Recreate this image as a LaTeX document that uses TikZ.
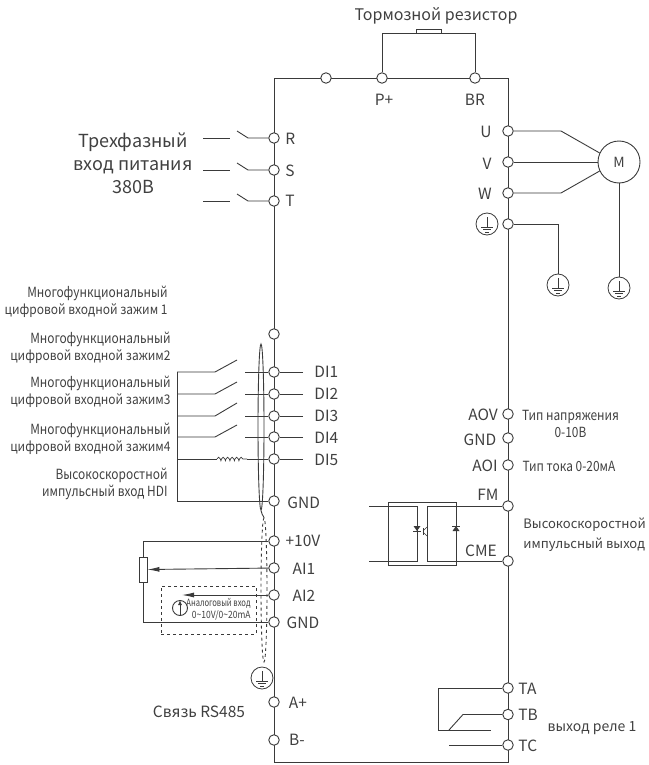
\documentclass[tikz,border=0pt]{standalone}
\usepackage{fontspec}
\setmainfont{Noto Sans CJK SC}
\newfontfamily\narrowfont[FakeStretch=0.85]{Noto Sans CJK SC}
\newfontfamily\plainfont[FakeStretch=0.9]{Noto Sans CJK SC}
\newfontfamily\tightfont[FakeStretch=0.76]{Noto Sans CJK SC}
\newcommand{\lowerline}[1]{{\plainfont\fontsize{13.3}{17}\selectfont #1}}
\usetikzlibrary{arrows.meta,decorations.pathmorphing,shapes.geometric}
\definecolor{wirecol}{HTML}{3A3A3A}
\definecolor{textcol}{HTML}{404040}
\begin{document}
\begin{tikzpicture}[x=1pt, y=-1pt, line width=0.9pt, color=wirecol,
    term/.style={circle, draw, fill=white, minimum size=10.5pt, inner sep=0pt},
    termdot/.style={term, path picture={\fill (path picture bounding box.center) circle (2.2pt);}},
    gnd/.style={circle, draw, fill=white, minimum size=22pt, inner sep=0pt, line width=0.8pt,
      path picture={\draw[shift={(path picture bounding box.center)}, line width=0.8pt]
        (0,-7) -- (0,3) (-6,3) -- (6,3) (-4,5.5) -- (4,5.5) (-2,8) -- (2,8);}},
    lbl/.style={text=textcol, font=\fontsize{15.5}{15.5}\selectfont, inner sep=0pt},
    big/.style={text=textcol, font=\fontsize{18}{18}\selectfont, inner sep=0pt},
    note/.style={text=textcol, font=\narrowfont\fontsize{14}{17}\selectfont, inner sep=0pt, align=right, anchor=east},
    small/.style={text=textcol, font=\narrowfont\fontsize{10}{12}\selectfont, inner sep=0pt, align=right, anchor=east},
    tiptri/.style={-{Latex[length=12pt,width=5pt]}}]
    \useasboundingbox (0,0) rectangle (648,765);

    % drive frame
    \coordinate (frameTL) at (274,78);
    \coordinate (frameTR) at (508,78);
    \coordinate (frameBR) at (508,762);
    \coordinate (frameBL) at (274,762);
    \draw (frameTL) -- (frameTR) -- (frameBR) -- (frameBL) -- cycle;

    % top terminals, brake resistor
    \node [term] (dcA) at (326,78) {};
    \node [term] (pplus) at (382,78) {};
    \node [term] (br) at (475,78) {};
    \node [draw, fill=white, minimum width=25pt, minimum height=4pt, inner sep=0pt] (rbrake) at (428.5,31) {};
    \draw (pplus) |- (rbrake.south west);
    \draw (br) |- (rbrake.south east);
    \node [lbl, font=\fontsize{16}{16}\selectfont] (rbrakeL) at (436,16) {Тормозной резистор};
    \node [lbl] (pplusL) at (384,100) {P+};
    \node [lbl] (brL) at (475,100) {BR};

    % mains input
    \node [term] (R) at (274,138) {};
    \node [term] (S) at (274,170) {};
    \node [term] (T) at (274,201) {};
    \node [lbl, anchor=west] (RL) at (285,139) {R};
    \node [lbl, anchor=west] (SL) at (285,171) {S};
    \node [lbl, anchor=west] (TL) at (285,201) {T};
    \coordinate (Ra) at (203,138);
    \coordinate (Rb) at (230,138);
    \coordinate (Rc) at (237,131);
    \coordinate (Rd) at (248,138);
    \coordinate (Sa) at (203,170);
    \coordinate (Sb) at (230,170);
    \coordinate (Sc) at (237,163);
    \coordinate (Sd) at (248,170);
    \coordinate (Ta) at (203,201);
    \coordinate (Tb) at (230,201);
    \coordinate (Tc) at (237,194);
    \coordinate (Td) at (248,201);
    \draw (Ra) -- (Rb);
    \draw (Rc) -- (Rd) -- (R);
    \draw (Sa) -- (Sb);
    \draw (Sc) -- (Sd) -- (S);
    \draw (Ta) -- (Tb);
    \draw (Tc) -- (Td) -- (T);
    \node [big, align=center] (mainsL) at (133,163) {Трехфазный\\[5pt]вход питания\\[5pt]380В};

    % motor
    \node [term] (U) at (508,131) {};
    \node [term] (V) at (508,162) {};
    \node [term] (W) at (508,193) {};
    \node [term] (PE) at (508,224) {};
    \node [lbl] (UL) at (486,132) {U};
    \node [lbl] (VL) at (487,164) {V};
    \node [lbl] (WL) at (485,194) {W};
    \node [gnd] (gndPE) at (487,224) {};
    \node [circle, draw, minimum size=42pt, inner sep=0pt, text=textcol, font=\fontsize{14}{14}\selectfont] (M) at (619,162) {M};
    \coordinate (Ubend) at (561,131);
    \coordinate (Wbend) at (561,193);
    \draw (U) -- (Ubend) -- (M.155);
    \draw (V) -- (M);
    \draw (W) -- (Wbend) -- (M.205);
    \node [gnd] (gndPEout) at (558,285) {};
    \node [gnd] (gndM) at (619,288) {};
    \draw (PE) -| (gndPEout);
    \draw (M) -- (gndM);

    % digital inputs
    \node [term] (spare) at (274,334) {};
    \node [termdot] (DIa) at (274,372) {};
    \node [termdot] (DIb) at (274,394) {};
    \node [termdot] (DIc) at (274,416) {};
    \node [termdot] (DId) at (274,437) {};
    \node [termdot] (DIe) at (274,459) {};
    \node [termdot] (GNDd) at (274,501) {};
    \node [lbl, anchor=west] (DIaL) at (314,372) {DI1};
    \node [lbl, anchor=west] (DIbL) at (314,394) {DI2};
    \node [lbl, anchor=west] (DIcL) at (314,416) {DI3};
    \node [lbl, anchor=west] (DIdL) at (314,438) {DI4};
    \node [lbl, anchor=west] (DIeL) at (314,460) {DI5};
    \node [lbl, anchor=west] (GNDdL) at (287,503) {GND};
    \coordinate (DIaEnd) at (303,372);
    \coordinate (DIbEnd) at (303,394);
    \coordinate (DIcEnd) at (303,416);
    \coordinate (DIdEnd) at (303,437);
    \coordinate (DIeEnd) at (303,459);
    \draw (DIaEnd) -- (DIa);
    \draw (DIbEnd) -- (DIb);
    \draw (DIcEnd) -- (DIc);
    \draw (DIdEnd) -- (DId);
    \draw (DIeEnd) -- (DIe);
    \coordinate (busTop) at (177,372);
    \coordinate (busB) at (177,394);
    \coordinate (busC) at (177,416);
    \coordinate (busD) at (177,437);
    \coordinate (busE) at (177,459);
    \coordinate (busBot) at (177,501);
    \draw (busTop) -- (busBot) -- (GNDd);
    \coordinate (swA) at (215,372);
    \coordinate (swB) at (215,394);
    \coordinate (swC) at (215,416);
    \coordinate (swD) at (215,437);
    \coordinate (swAt) at (237,360);
    \coordinate (swBt) at (237,382);
    \coordinate (swCt) at (237,403);
    \coordinate (swDt) at (237,425);
    \coordinate (inA) at (245,372);
    \coordinate (inB) at (245,394);
    \coordinate (inC) at (245,416);
    \coordinate (inD) at (245,437);
    \draw (busTop) -- (swA) -- (swAt);
    \draw (busB) -- (swB) -- (swBt);
    \draw (busC) -- (swC) -- (swCt);
    \draw (busD) -- (swD) -- (swDt);
    \draw (inA) -- (DIa);
    \draw (inB) -- (DIb);
    \draw (inC) -- (DIc);
    \draw (inD) -- (DId);
    \coordinate (coilA) at (217,459);
    \coordinate (coilB) at (247,459);
    \draw (busE) -- (coilA);
    \draw [decorate, decoration={coil, aspect=0.3, amplitude=1.8pt, segment length=4.5pt}, line width=0.7pt] (coilA) -- (coilB);
    \draw (coilB) -- (DIe);
    \node [note] (noteA) at (168,302) {Многофункциональный\\\lowerline{цифровой входной зажим 1}};
    \node [note] (noteB) at (171,348) {Многофункциональный\hspace{3pt}\\\lowerline{цифровой входной зажим2}};
    \node [note] (noteC) at (171,392) {Многофункциональный\hspace{3pt}\\\lowerline{цифровой входной зажим3}};
    \node [note] (noteD) at (171,438.5) {Многофункциональный\hspace{3pt}\\\lowerline{цифровой входной зажим4}};
    \node [note] (noteE) at (168,484) {Высокоскоростной\\импульсный вход HDI};

    % shields
    \node [ellipse, draw, minimum width=6pt, minimum height=166pt, inner sep=0pt] (shieldA) at (261,427) {};
    \node [ellipse, draw, dashed, minimum width=6pt, minimum height=144pt, inner sep=0pt] (shieldB) at (264,590) {};
    \draw (shieldA.south) to [bend right=10] (shieldB.north);
    \node [gnd] (gndS) at (262,678) {};

    % analog inputs
    \node [term] (tenV) at (274,541) {};
    \node [termdot] (AIa) at (274,568) {};
    \node [termdot] (AIb) at (274,595) {};
    \node [term] (GNDa) at (274,622) {};
    \node [lbl] (tenVL) at (303,541) {+10V};
    \node [lbl] (AIaL) at (304,569) {AI1};
    \node [lbl] (AIbL) at (304,596) {AI2};
    \node [lbl] (GNDaL) at (303,623) {GND};
    \node [draw, minimum width=8pt, minimum height=25pt, inner sep=0pt] (pot) at (143,569.5) {};
    \draw (tenV) -| (pot.north);
    \draw (GNDa) -| (pot.south);
    \draw [tiptri] (AIa) -- (pot.east);
    \coordinate (ainEnd) at (182,595);
    \draw [tiptri] (AIb) -- (ainEnd);
    \node [draw, dashed, line width=0.6pt, minimum width=95pt, minimum height=48pt, inner sep=0pt] (ainBox) at (208.5,610) {};
    \node [circle, draw, minimum size=15pt, inner sep=0pt] (ainSrc) at (180,608) {};
    \draw [-{Latex[length=5pt,width=4pt]}] (ainSrc.south) -- (ainSrc.north);
    \node [small] (ainL) at (251,609) {{\tightfont Аналоговый вход}\\0\textasciitilde10V/0\textasciitilde20mA};

    % RS485
    \node [term] (Aplus) at (274,702) {};
    \node [term] (Bminus) at (274,740) {};
    \node [lbl] (AplusL) at (298,703) {A+};
    \node [lbl] (BminusL) at (297,740) {B-};
    \node [lbl] (rsL) at (199,712) {Связь RS485};

    % analog outputs
    \node [term] (AOV) at (508,414) {};
    \node [term] (GNDo) at (508,438) {};
    \node [term] (AOI) at (508,465) {};
    \node [lbl] (AOVL) at (483,415) {AOV};
    \node [lbl] (GNDoL) at (480,440) {GND};
    \node [lbl] (AOIL) at (485,466) {AOI};
    \node [note, anchor=center, align=center] (aovNote) at (570.5,424) {Тип напряжения\\0-10В};
    \node [note, anchor=center] (aoiNote) at (569,466) {Тип тока 0-20мА};

    % pulse output
    \node [term] (FM) at (508,506) {};
    \node [term] (CME) at (508,561) {};
    \node [lbl] (FML) at (488,495) {FM};
    \node [lbl] (CMEL) at (481,551) {CME};
    \node [draw, minimum width=68pt, minimum height=63pt, inner sep=0pt] (optoBox) at (422,533.5) {};
    \coordinate (optoInA) at (369,506);
    \coordinate (optoInB) at (369,561);
    \coordinate (ledTop) at (417,506);
    \coordinate (ledBot) at (417,561);
    \coordinate (transTop) at (427,506);
    \coordinate (transBot) at (427,561);
    \draw (optoInA) -- (ledTop) -- (ledBot) -- (optoInB);
    \draw (FM) -- (transTop) -- (transBot) -- (CME);
    \fill (413.5,526) -- (420.5,526) -- (417,531) -- cycle;
    \draw [line width=0.7pt] (413,531) -- (421,531);
    \fill (452.5,531) -- (459.5,531) -- (456,526) -- cycle;
    \draw [line width=0.7pt] (452,526) -- (460,526);
    \draw [line width=0.7pt] (423,528) -- (423,535);
    \draw [line width=0.6pt] (423,531) -- (427,527);
    \draw [line width=0.6pt] (423,532) -- (427,536);
    \node [text=textcol, font=\fontsize{13}{20}\selectfont, inner sep=0pt, align=left, anchor=west] (pulseNote) at (523,535) {Высокоскоростной\\импульсный выход};

    % relay
    \node [term] (TA) at (508,688) {};
    \node [term] (TB) at (508,714.5) {};
    \node [term] (TC) at (508,745) {};
    \node [lbl, anchor=west] (TAL) at (518,689) {TA};
    \node [lbl, anchor=west] (TBL) at (518,715) {TB};
    \node [lbl, anchor=west] (TCL) at (518,746) {TC};
    \coordinate (relA) at (438,688);
    \coordinate (relB) at (438,730);
    \coordinate (relC) at (491,730);
    \coordinate (relD) at (449,730);
    \coordinate (relE) at (463,714.5);
    \coordinate (relF) at (449,745);
    \draw (TA) -- (relA) -- (relB) -- (relC);
    \draw (relD) -- (relE) -- (TB);
    \draw (relF) -- (TC);
    \node [note, anchor=center, font=\fontsize{14}{14}\selectfont] (relL) at (592,728) {выход реле 1};
  \end{tikzpicture}
\end{document}
